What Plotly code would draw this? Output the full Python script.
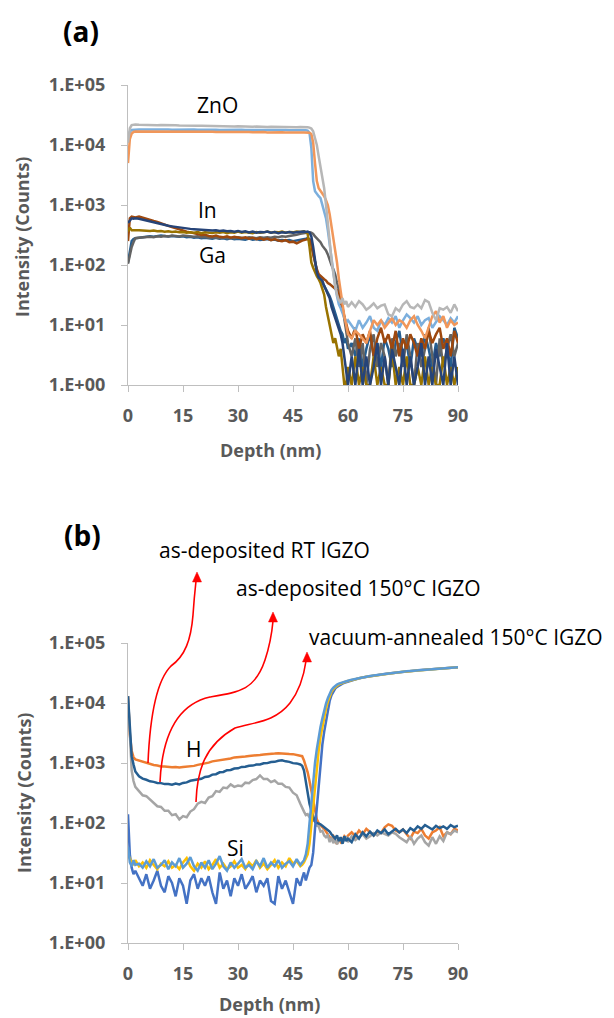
import plotly.graph_objects as go

# ---------------- data ----------------
DEPTH = ([0, 0.5, 1, 1.5, 2]
         + [3, 4, 5, 6, 7, 8, 9, 10, 11, 12, 13, 14, 15, 16, 17, 18, 19, 20, 21, 22, 23, 24, 25,
            26, 27, 28, 29, 30, 31, 32, 33, 34, 35, 36, 37, 38, 39, 40, 41, 42, 43, 44, 45, 46, 47]
         + [47.5, 48, 48.5, 49, 49.5, 50, 50.5, 51, 51.5, 52, 52.5, 53, 53.5, 54, 54.5, 55, 55.5,
            56, 56.5, 57, 57.5, 58, 58.5, 59, 59.5, 60]
         + [61, 62, 63, 64, 65, 66, 67, 68, 69, 70, 71, 72, 73, 74, 75, 76, 77, 78, 79, 80,
            81, 82, 83, 84, 85, 86, 87, 88, 89, 90])

# panel (a)
ZNO_GRAY = ([11000, 19000, 21500, 22000, 22000]
            + [21800, 21600, 21700, 21500, 21600, 21400, 21500, 21300, 21400, 21200,
               21300, 21100, 21200, 21000, 21100, 20900, 21000, 20900, 20800, 20900,
               20700, 20800, 20600, 20700, 20500, 20600, 20400, 20500, 20300, 20400,
               20300, 20200, 20300, 20100, 20200, 20000, 20100, 20000, 20100, 19900,
               20000, 19900, 20000, 19800, 19900]
            + [20000, 20000, 19800, 19800, 19500, 18800, 17000, 13000, 10000, 6500,
               4500, 3200, 1900, 1000, 550, 250, 120, 70, 45, 32, 26, 24, 28, 22, 25, 20]
            + [24, 20, 25, 22, 18, 20, 23, 19, 21, 22, 15, 14, 19, 17, 22,
               25, 20, 19, 22, 19, 26, 24, 16, 12, 19, 18, 20, 16, 22, 17])
ZNO_BLUE = ([11000, 16500, 17800, 18000, 18200]
            + [18200, 18100, 18300, 18200, 18100, 18200, 18000, 18100, 18200, 18000,
               18100, 18000, 18100, 17900, 18000, 18100, 17900, 18000, 17900, 18000,
               17900, 18000, 17800, 17900, 18000, 17800, 17900, 17800, 17900, 17700,
               17800, 17900, 17700, 17800, 17700, 17800, 17700, 17800, 17600, 17700,
               17800, 17600, 17700, 17800, 17700]
            + [17800, 17800, 17600, 17400, 16000, 9000, 2500, 1700, 1500, 1400,
               1300, 1000, 850, 600, 380, 220, 120, 72, 45, 30, 22, 19, 16, 13, 11, 12]
            + [10, 8, 12, 9, 11, 14, 9, 8, 12, 10, 13, 11, 14, 9, 12,
               15, 13, 11, 14, 10, 12, 13, 9, 11, 14, 12, 10, 13, 11, 14])
ZNO_ORANGE = ([5000, 12500, 15500, 16500, 16800]
              + [16800, 16900, 16800, 16700, 16800, 16700, 16800, 16600, 16700, 16800,
                 16600, 16700, 16600, 16700, 16500, 16600, 16700, 16500, 16600, 16500,
                 16600, 16400, 16500, 16600, 16400, 16500, 16400, 16500, 16300, 16400,
                 16500, 16300, 16400, 16300, 16400, 16200, 16300, 16400, 16200, 16300,
                 16200, 16300, 16100, 16200, 16300]
              + [16200, 16200, 16100, 16100, 16000, 15300, 11000, 5000, 2500, 1900,
                 1700, 1600, 1400, 1200, 1000, 700, 450, 320, 180, 110, 60, 35, 22, 14, 10, 7]
              + [6, 8, 7, 6, 5, 8, 12, 10, 12, 9, 11, 13, 10, 12, 11,
                 9, 12, 14, 10, 8, 6, 9, 14, 17, 11, 14, 9, 12, 10, 11])
IN_BROWN = ([250, 600, 640, 630, 620]
            + [640, 610, 580, 560, 540, 520, 500, 470, 450, 430,
               410, 395, 380, 360, 350, 335, 330, 315, 320, 305,
               300, 310, 295, 290, 300, 285, 295, 285, 280, 290,
               275, 285, 270, 280, 265, 275, 260, 270, 255, 250,
               260, 240, 245, 230, 250]
            + [255, 260, 265, 270, 265, 220, 150, 110, 85, 70,
               65, 60, 58, 55, 50, 48, 45, 42, 40, 38, 32, 24, 18, 14, 10, 8]
            + [6, 9, 4, 7, 5, 8, 3, 6, 9, 5, 7, 4, 8, 3, 6,
               4, 7, 5, 3, 6, 4, 8, 5, 7, 9, 4, 6, 3, 8, 5])
IN_NAVY = ([500, 560, 600, 590, 600]
           + [590, 570, 540, 530, 510, 500, 480, 465, 450, 440,
              430, 420, 410, 405, 400, 395, 390, 395, 380, 385,
              375, 380, 370, 375, 365, 370, 360, 370, 355, 365,
              350, 360, 345, 355, 350, 360, 345, 355, 340, 350,
              345, 355, 345, 350, 360]
           + [355, 360, 355, 360, 350, 300, 200, 110, 75, 62,
              58, 55, 45, 38, 33, 28, 20, 16, 13, 11, 9, 7, 5, 3, 2, 1]
           + [3, 1, 4, 1, 3, 1, 2, 5, 1, 3, 1, 4, 2, 1, 4,
              1, 3, 1, 2, 5, 1, 3, 1, 4, 2, 1, 5, 1, 3, 1])
GA_GOLD = ([360, 420, 380, 385, 380]
           + [380, 375, 380, 370, 375, 365, 370, 360, 365, 355,
              360, 350, 355, 345, 350, 345, 355, 340, 350, 345,
              340, 350, 345, 355, 340, 350, 345, 360, 345, 355,
              350, 340, 355, 345, 350, 360, 345, 355, 350, 360,
              345, 355, 350, 360, 355]
           + [360, 365, 350, 330, 200, 110, 90, 75, 65, 58,
              50, 40, 32, 20, 14, 10, 7, 5, 6, 4, 3, 4, 2, 1, 1, 2]
           + [1, 3, 1, 2, 1, 1, 3, 1, 2, 1, 1, 4, 1, 2, 1,
              3, 1, 1, 2, 1, 3, 1, 2, 1, 1, 3, 1, 2, 1, 2])
GA_GRAY = ([105, 150, 200, 240, 280]
           + [285, 290, 288, 295, 290, 300, 295, 305, 300, 310,
              305, 300, 310, 305, 300, 295, 300, 290, 295, 285,
              290, 285, 280, 290, 280, 285, 280, 290, 285, 280,
              290, 285, 280, 290, 285, 290, 285, 295, 290, 300,
              295, 305, 310, 320, 330]
           + [335, 340, 345, 350, 350, 345, 330, 300, 280, 260,
              240, 210, 190, 175, 150, 120, 100, 85, 70, 50, 40, 30, 20, 12, 8, 5]
           + [3, 6, 2, 5, 1, 4, 7, 2, 5, 3, 1, 6, 3, 5, 2,
              7, 3, 1, 5, 2, 4, 9, 3, 1, 6, 2, 4, 7, 3, 5])
GA_BLUE = ([110, 180, 250, 270, 280]
           + [285, 290, 295, 300, 295, 300, 310, 305, 300, 305,
              300, 295, 300, 290, 295, 285, 290, 280, 285, 280,
              275, 285, 275, 280, 270, 280, 270, 275, 270, 265,
              275, 265, 270, 260, 265, 270, 260, 265, 255, 260,
              255, 260, 250, 255, 260]
           + [265, 270, 275, 280, 270, 230, 160, 110, 80, 65,
              55, 50, 45, 40, 35, 30, 25, 20, 16, 12, 10, 8, 7, 5, 6, 4]
           + [5, 3, 6, 2, 4, 7, 3, 5, 2, 6, 4, 2, 5, 8, 3,
              5, 2, 6, 4, 3, 7, 4, 2, 5, 3, 6, 4, 2, 9, 6])

# panel (b)
H_ORANGE = ([13000, 3000, 1600, 1250, 1150]
            + [1100, 1040, 1000, 970, 925, 905, 875, 875, 855, 850,
               860, 840, 855, 860, 885, 895, 930, 955, 995, 1015,
               1065, 1085, 1125, 1145, 1180, 1190, 1240, 1245, 1280, 1285,
               1310, 1320, 1360, 1365, 1390, 1395, 1430, 1435, 1460, 1430,
               1440, 1410, 1405, 1375, 1345]
            + [1300, 1100, 900, 700, 500, 350, 230, 150, 115, 100,
               90, 85, 80, 72, 65, 58, 55, 60, 50, 45, 55, 48, 52, 60, 55, 62]
            + [70, 60, 75, 65, 80, 70, 62, 72, 68, 85, 95, 90, 75, 70, 78,
               65, 55, 72, 68, 80, 62, 55, 70, 75, 85, 60, 70, 65, 80, 75])
H_GRAY = ([13000, 2500, 750, 500, 400]
          + [340, 290, 280, 245, 220, 190, 185, 160, 160, 135,
             140, 115, 130, 125, 155, 170, 210, 225, 215, 265,
             280, 340, 330, 390, 380, 440, 400, 420, 410, 470,
             460, 520, 540, 620, 540, 540, 480, 510, 450, 450,
             400, 390, 320, 290, 210]
          + [175, 155, 135, 140, 125, 128, 110, 108, 90, 88,
             72, 74, 62, 58, 62, 48, 57, 46, 54, 44, 52, 57, 46, 54, 60, 48]
          + [60, 52, 58, 65, 55, 60, 68, 62, 70, 65, 62, 70, 66, 58, 52,
             48, 60, 45, 55, 62, 48, 42, 58, 45, 60, 50, 70, 65, 75, 70])
H_NAVY = ([13000, 3500, 1300, 950, 720]
          + [600, 550, 525, 495, 485, 465, 462, 445, 448, 435,
             455, 440, 465, 475, 505, 515, 535, 545, 585, 595,
             640, 650, 700, 710, 760, 765, 810, 815, 860, 865,
             900, 905, 940, 945, 990, 995, 1040, 1045, 1090, 1110,
             1065, 1045, 995, 985, 945]
          + [900, 750, 500, 300, 210, 160, 125, 105, 100, 98,
             95, 90, 85, 80, 75, 72, 65, 60, 55, 62, 50, 58, 45, 60, 50, 55]
          + [48, 65, 55, 70, 60, 72, 62, 75, 68, 78, 65, 72, 80, 70, 78,
             68, 82, 75, 88, 80, 92, 85, 78, 90, 82, 88, 80, 92, 85, 90])
SI_ROYAL = ([140, 30, 18, 14, 16]
            + [12, 9, 14, 8, 11, 16, 9, 7, 13, 10,
               6, 12, 9, 4.5, 11, 14, 8, 12, 9, 13,
               7, 4.5, 15, 8, 11, 6, 12, 9, 14, 8,
               10, 13, 7, 11, 9, 12, 5, 4.5, 13, 8,
               11, 7, 4.5, 12, 9]
            + [12, 15, 11, 14, 18, 20, 32, 80, 190, 500,
               1100, 2000, 3300, 5200, 7800, 10800, 13500, 15800, 17300, 18500,
               19500, 20300, 21000, 21600, 22100, 22600]
            + [24300, 25100, 25900, 26700, 27400, 28000, 28600, 29200, 29800, 30400,
               31000, 31600, 32200, 32700, 33200, 33700, 34200, 34600, 35000, 35400,
               35800, 36200, 36600, 37000, 37400, 37800, 38200, 38600, 39000, 39400])
SI_YELLOW = ([30, 25, 22, 20, 24]
             + [19, 22, 18, 24, 20, 17, 21, 19, 23, 18,
                20, 17, 22, 26, 19, 16, 21, 18, 23, 17,
                20, 25, 18, 21, 17, 19, 23, 18, 20, 17,
                22, 19, 24, 18, 21, 17, 20, 24, 18, 22,
                19, 26, 21, 23, 19]
             + [20, 22, 26, 30, 45, 90, 190, 450, 900, 1600,
                2700, 4000, 5800, 8000, 10500, 13000, 15300, 17000, 18400, 19500,
                20400, 21100, 21700, 22300, 22800, 23300]
             + [24200, 25000, 25800, 26600, 27300, 27900, 28500, 29100, 29700, 30300,
                30900, 31500, 32100, 32600, 33100, 33600, 34100, 34500, 34900, 35300,
                35700, 36100, 36500, 36900, 37300, 37700, 38100, 38500, 38900, 39300])
SI_LIGHT = ([40, 22, 19, 24, 20]
            + [21, 18, 23, 19, 25, 18, 20, 24, 17, 22,
               19, 26, 18, 21, 27, 19, 16, 22, 18, 24,
               17, 21, 28, 19, 16, 22, 18, 21, 25, 18,
               20, 17, 23, 19, 26, 18, 22, 19, 24, 18,
               21, 23, 19, 25, 20]
            + [22, 24, 30, 45, 100, 240, 550, 1000, 1700, 2700,
               4000, 5500, 7500, 9800, 12000, 14500, 16500, 18000, 19300, 20300,
               21000, 21600, 22100, 22600, 23000, 23500]
            + [24500, 25300, 26000, 26800, 27500, 28100, 28700, 29300, 29900, 30500,
               31100, 31700, 32300, 32800, 33300, 33800, 34300, 34700, 35100, 35500,
               35900, 36300, 36700, 37100, 37500, 37900, 38300, 38700, 39100, 39500])

X_TICKS = [0, 15, 30, 45, 60, 75, 90]
Y_TICKS = [1, 10, 100, 1000, 10000, 100000]
Y_TICK_TEXT = ["1.E+00", "1.E+01", "1.E+02", "1.E+03", "1.E+04", "1.E+05"]

PANEL_A = [
    (GA_BLUE, "#255E91"), (GA_GRAY, "#636363"), (IN_BROWN, "#9E480E"),
    (GA_GOLD, "#997300"), (IN_NAVY, "#264478"),
    (ZNO_BLUE, "#7CAFDD"), (ZNO_ORANGE, "#F1975A"), (ZNO_GRAY, "#B7B7B7"),
]
PANEL_B = [
    (H_ORANGE, "#ED7D31"), (H_GRAY, "#A5A5A5"), (H_NAVY, "#255E91"),
    (SI_ROYAL, "#4472C4"), (SI_YELLOW, "#FFC000"), (SI_LIGHT, "#5B9BD5"),
]

for s, _ in PANEL_A + PANEL_B:
    assert len(s) == len(DEPTH), (len(s), len(DEPTH))

# ---------------- layout geometry (pixels) ----------------
W, H = 614, 1018
L, R, T, B = 128, 156, 85, 75
PW, PH = W - L - R, H - T - B


def px(x, y):
    return (x - L) / PW, (H - B - y) / PH


A_DOM = [px(0, 385)[1], 1.0]
B_DOM = [0.0, px(0, 643)[1]]

fig = go.Figure()
for s, c in PANEL_A:
    fig.add_trace(go.Scatter(x=DEPTH, y=s, mode="lines", line=dict(color=c, width=2.5),
                             xaxis="x", yaxis="y", showlegend=False, hoverinfo="skip"))
for s, c in PANEL_B:
    fig.add_trace(go.Scatter(x=DEPTH, y=s, mode="lines", line=dict(color=c, width=2.5),
                             xaxis="x2", yaxis="y2", showlegend=False, hoverinfo="skip"))

TICKFONT = dict(family="Open Sans", size=18, color="#595959", weight="bold")
AX_COMMON = dict(showline=True, linecolor="#BFBFBF", linewidth=1.3, ticks="outside",
                 ticklen=6, tickwidth=1.3, tickcolor="#BFBFBF", showgrid=False,
                 zeroline=False, tickfont=TICKFONT, automargin=False)
xax = dict(range=[0, 90], tickvals=X_TICKS, ticklabelstandoff=8, **AX_COMMON)
yax = dict(type="log", range=[0, 5], tickvals=Y_TICKS, ticktext=Y_TICK_TEXT,
           ticklabelstandoff=12, **AX_COMMON)

fig.update_layout(
    width=W, height=H, margin=dict(l=L, r=R, t=T, b=B),
    paper_bgcolor="white", plot_bgcolor="white",
    xaxis=dict(domain=[0, 1], anchor="y", **xax),
    yaxis=dict(domain=A_DOM, anchor="x", **yax),
    xaxis2=dict(domain=[0, 1], anchor="y2", **xax),
    yaxis2=dict(domain=B_DOM, anchor="x2", **yax),
)

annotations = []


def text(x, y, s, size=21, color="black", bold=False, angle=0):
    ax, ay = px(x, y)
    annotations.append(dict(x=ax, y=ay, xref="paper", yref="paper", text=s, showarrow=False,
                            xanchor="center", yanchor="middle", textangle=angle,
                            font=dict(family="Open Sans", size=size, color=color,
                                      weight="bold" if bold else "normal")))


text(81, 31, "(a)", size=28, bold=True)
text(82, 535, "(b)", size=28, bold=True)
text(217, 105, "ZnO")
text(207, 210, "In")
text(212, 255, "Ga")
text(193, 749, "H")
text(235, 848, "Si")
text(264, 550, "as-deposited RT IGZO")
text(358, 588, "as-deposited 150°C IGZO")
text(456, 637, "vacuum-annealed 150°C IGZO")
text(22, 237, "Intensity (Counts)", size=18, color="#595959", bold=True, angle=-90)
text(24, 793, "Intensity (Counts)", size=18, color="#595959", bold=True, angle=-90)
text(270, 450, "Depth (nm)", size=18, color="#595959", bold=True)
text(269, 1004, "Depth (nm)", size=18, color="#595959", bold=True)
fig.update_layout(annotations=annotations)


def path_str(cmds):
    out = []
    for c in cmds:
        if isinstance(c, str):
            out.append(c)
        else:
            a, b = px(*c)
            out.append(f"{a:.5f},{b:.5f}")
    return " ".join(out)


ARROWS = [
    (["M", (148, 763), "C", (150, 715), (157, 680), (171, 666),
      "C", (185, 656), (191, 640), (193, 615), "C", (194, 600), (195, 590), (196, 581)], (197, 572)),
    (["M", (160, 782), "C", (162, 740), (175, 705), (210, 697),
      "C", (240, 692), (255, 690), (265, 660), "C", (270, 645), (272, 632), (273, 621)], (273, 612)),
    (["M", (196, 802), "C", (197, 770), (205, 745), (235, 728),
      "C", (255, 722), (275, 722), (290, 703), "C", (300, 690), (304, 675), (306, 661)], (307, 652)),
]
shapes = []
for cmds, tip in ARROWS:
    shapes.append(dict(type="path", xref="paper", yref="paper", path=path_str(cmds),
                       line=dict(color="#FF0000", width=1.6)))
    tx, ty = tip
    tri = ["M", (tx, ty), "L", (tx - 4.5, ty + 10), "L", (tx + 4.5, ty + 10), "Z"]
    shapes.append(dict(type="path", xref="paper", yref="paper", path=path_str(tri),
                       fillcolor="#FF0000", line=dict(color="#FF0000", width=0.5)))
fig.update_layout(shapes=shapes)

fig.write_html("out.html")
